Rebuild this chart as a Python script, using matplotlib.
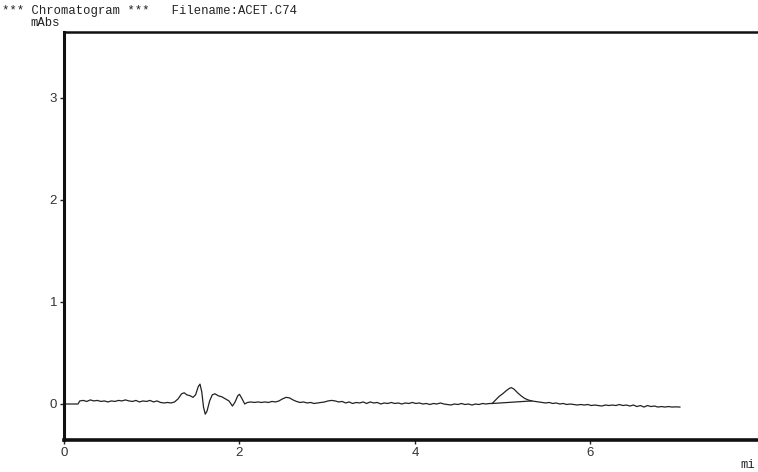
"""
Chromatogram trace for ACET.C74 (absorbance vs retention time).
"""

import matplotlib
matplotlib.use("Agg")
import matplotlib.pyplot as plt

# ── Data ───────────────────────────────────────────────────────────────────
time_min = [
    0.00, 0.16, 0.18, 0.22, 0.26, 0.30, 0.34, 0.38, 0.42, 0.46, 0.50, 0.54,
    0.58, 0.62, 0.66, 0.70, 0.74, 0.78, 0.82, 0.86, 0.90, 0.94, 0.98, 1.02,
    1.06, 1.10, 1.14, 1.18, 1.22, 1.26, 1.30, 1.34, 1.37, 1.40, 1.44, 1.47,
    1.50, 1.53, 1.55, 1.57, 1.59, 1.61, 1.63, 1.66, 1.69, 1.72, 1.76, 1.80,
    1.84, 1.88, 1.92, 1.95, 1.98, 2.00, 2.03, 2.06, 2.09, 2.13, 2.17, 2.21,
    2.25, 2.29, 2.33, 2.37, 2.41, 2.45, 2.49, 2.53, 2.57, 2.61, 2.65, 2.69,
    2.73, 2.77, 2.81, 2.85, 2.89, 2.93, 2.97, 3.01, 3.05, 3.09, 3.13, 3.17,
    3.21, 3.25, 3.29, 3.33, 3.37, 3.41, 3.45, 3.49, 3.53, 3.57, 3.61, 3.65,
    3.69, 3.73, 3.77, 3.81, 3.85, 3.89, 3.93, 3.97, 4.01, 4.05, 4.09, 4.13,
    4.17, 4.21, 4.25, 4.29, 4.33, 4.37, 4.41, 4.45, 4.49, 4.53, 4.57, 4.61,
    4.65, 4.69, 4.73, 4.77, 4.81, 4.85, 4.88, 4.92, 4.96, 5.00, 5.04, 5.08,
    5.10, 5.13, 5.17, 5.21, 5.25, 5.29, 5.33, 5.37, 5.41, 5.45, 5.49, 5.53,
    5.57, 5.61, 5.65, 5.69, 5.73, 5.77, 5.81, 5.85, 5.89, 5.93, 5.97, 6.01,
    6.05, 6.09, 6.13, 6.17, 6.21, 6.25, 6.29, 6.33, 6.37, 6.41, 6.45, 6.49,
    6.53, 6.57, 6.61, 6.65, 6.69, 6.73, 6.77, 6.81, 6.85, 6.89, 6.93, 6.97,
    7.02,
]
signal_mabs = [
    0.000, 0.000, 0.030, 0.035, 0.025, 0.040, 0.030, 0.035, 0.025, 0.030, 0.020, 0.030,
    0.025, 0.035, 0.030, 0.040, 0.030, 0.025, 0.035, 0.020, 0.030, 0.025, 0.035, 0.020,
    0.030, 0.015, 0.010, 0.015, 0.010, 0.020, 0.050, 0.100, 0.110, 0.090, 0.080, 0.065,
    0.090, 0.170, 0.195, 0.120, -0.030, -0.100, -0.070, 0.030, 0.090, 0.100, 0.080, 0.070,
    0.050, 0.030, -0.020, 0.020, 0.080, 0.095, 0.050, 0.000, 0.015, 0.020, 0.015, 0.020,
    0.015, 0.020, 0.015, 0.025, 0.020, 0.030, 0.050, 0.065, 0.060, 0.040, 0.025, 0.015,
    0.020, 0.010, 0.015, 0.005, 0.010, 0.015, 0.020, 0.030, 0.035, 0.030, 0.020, 0.025,
    0.010, 0.020, 0.005, 0.015, 0.010, 0.020, 0.005, 0.020, 0.010, 0.015, 0.000, 0.010,
    0.005, 0.015, 0.005, 0.010, 0.000, 0.010, 0.005, 0.015, 0.005, 0.010, 0.000, 0.005,
    -0.005, 0.005, 0.000, 0.010, 0.000, -0.005, -0.010, 0.000, -0.005, 0.005, -0.005, 0.000,
    -0.010, 0.000, -0.005, 0.005, 0.000, 0.005, 0.005, 0.040, 0.075, 0.100, 0.130, 0.155,
    0.160, 0.145, 0.110, 0.080, 0.055, 0.040, 0.030, 0.025, 0.020, 0.015, 0.010, 0.015,
    0.005, 0.010, 0.000, 0.005, -0.005, 0.000, -0.005, -0.010, -0.005, -0.010, -0.005, -0.015,
    -0.010, -0.015, -0.020, -0.010, -0.015, -0.010, -0.015, -0.005, -0.015, -0.010, -0.020, -0.010,
    -0.025, -0.015, -0.030, -0.015, -0.025, -0.020, -0.030, -0.025, -0.030, -0.025, -0.030, -0.028,
    -0.030,
]

# integration baseline drawn under the peak at ~5.1 min
baseline_t = [4.88, 5.33]
baseline_v = [0.005, 0.030]

x_ticks = [0, 2, 4, 6]
y_ticks = [0, 1, 2, 3]

# ── Plot ───────────────────────────────────────────────────────────────────
fig = plt.figure(figsize=(7.58, 4.72), dpi=100)
ax = fig.add_axes([64 / 758, 32 / 472, 1 - 64 / 758 + 0.01, 408 / 472])
# axes box: left spine x=64px, bottom spine y=440px, top spine y=32px
ax.set_position([64 / 758, 1 - 440 / 472, 1 - 64 / 758 + 0.01, 408 / 472])

ax.plot(time_min, signal_mabs, color="#222222", linewidth=0.9)
ax.plot(baseline_t, baseline_v, color="#222222", linewidth=0.9)

ax.set_xlim(0, 7.91 * (1 + 0.01 * 758 / 694))
ax.set_ylim(-0.353, 3.647)
ax.set_xticks(x_ticks)
ax.set_yticks(y_ticks)
ax.set_xticklabels([str(t) for t in x_ticks], family="Liberation Sans",
                   fontsize=9.5, color="#333333")
ax.set_yticklabels([str(t) for t in y_ticks], family="Liberation Sans",
                   fontsize=9.5, color="#333333")
ax.tick_params(axis="both", direction="out", length=3, width=1,
               color="#222222", pad=2)

ax.spines["right"].set_visible(False)
ax.spines["left"].set_linewidth(2.2)
ax.spines["bottom"].set_linewidth(2.6)
ax.spines["top"].set_linewidth(1.8)
for s in ("left", "bottom", "top"):
    ax.spines[s].set_color("#111111")

mono = "Liberation Mono"
fig.text(2 / 758, 1 - 14 / 472, "*** Chromatogram ***   Filename:ACET.C74",
         family=mono, fontsize=8.8, color="#222222", va="baseline")
fig.text(30 / 758, 1 - 26 / 472, "mAbs", family=mono, fontsize=8.8,
         color="#222222", va="baseline")
fig.text(740 / 758, 1 - 468 / 472, "mi", family=mono, fontsize=8.8,
         color="#222222", va="baseline")

plt.savefig("out.png", dpi=100)
plt.close()
